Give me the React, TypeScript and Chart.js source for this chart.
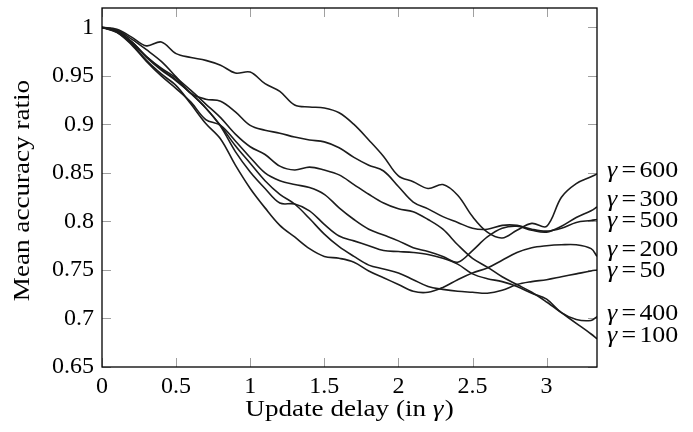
import React, { useEffect, useRef } from "react";
import { Chart, registerables } from "chart.js";

Chart.register(...registerables);

const xValues = [0, 0.1, 0.2, 0.3, 0.4, 0.5, 0.6, 0.7, 0.8, 0.9, 1.0, 1.1, 1.2, 1.3, 1.4, 1.5, 1.6, 1.7, 1.8, 1.9, 2.0, 2.1, 2.2, 2.3, 2.4, 2.5, 2.6, 2.7, 2.8, 2.9, 3.0, 3.1, 3.2, 3.3, 3.34];

const accGamma600 = [1.0, 0.998, 0.99, 0.981, 0.985, 0.973, 0.969, 0.966, 0.961, 0.953, 0.954, 0.942, 0.934, 0.92, 0.918, 0.917, 0.912, 0.9, 0.884, 0.867, 0.847, 0.841, 0.834, 0.838, 0.827, 0.805, 0.789, 0.783, 0.791, 0.798, 0.795, 0.825, 0.839, 0.846, 0.849];
const accGamma300 = [1.0, 0.995, 0.982, 0.965, 0.95, 0.937, 0.923, 0.905, 0.899, 0.883, 0.866, 0.85, 0.842, 0.838, 0.835, 0.828, 0.814, 0.802, 0.792, 0.786, 0.78, 0.773, 0.769, 0.764, 0.758, 0.77, 0.784, 0.793, 0.795, 0.791, 0.789, 0.795, 0.804, 0.811, 0.815];
const accGamma500 = [1.0, 0.997, 0.988, 0.977, 0.965, 0.949, 0.932, 0.926, 0.924, 0.913, 0.899, 0.894, 0.891, 0.887, 0.884, 0.882, 0.876, 0.866, 0.858, 0.852, 0.836, 0.82, 0.813, 0.805, 0.799, 0.793, 0.792, 0.796, 0.796, 0.792, 0.79, 0.793, 0.799, 0.801, 0.802];
const accGamma200 = [1.0, 0.995, 0.983, 0.966, 0.952, 0.94, 0.921, 0.901, 0.885, 0.858, 0.834, 0.814, 0.796, 0.784, 0.772, 0.764, 0.762, 0.758, 0.749, 0.742, 0.735, 0.728, 0.727, 0.732, 0.74, 0.747, 0.752, 0.76, 0.768, 0.773, 0.775, 0.776, 0.776, 0.772, 0.764];
const accGamma50 = [1.0, 0.996, 0.985, 0.969, 0.956, 0.945, 0.932, 0.917, 0.899, 0.878, 0.86, 0.842, 0.828, 0.818, 0.803, 0.787, 0.774, 0.764, 0.755, 0.751, 0.747, 0.74, 0.733, 0.73, 0.728, 0.727, 0.726, 0.729, 0.735, 0.738, 0.74, 0.743, 0.746, 0.749, 0.75];
const accGamma400 = [1.0, 0.996, 0.985, 0.97, 0.957, 0.946, 0.932, 0.917, 0.898, 0.872, 0.851, 0.834, 0.819, 0.818, 0.811, 0.797, 0.785, 0.78, 0.775, 0.77, 0.769, 0.768, 0.766, 0.762, 0.756, 0.746, 0.741, 0.738, 0.733, 0.726, 0.72, 0.706, 0.699, 0.698, 0.702];
const accGamma100 = [1.0, 0.996, 0.985, 0.97, 0.958, 0.948, 0.935, 0.921, 0.907, 0.89, 0.877, 0.869, 0.857, 0.853, 0.856, 0.853, 0.848, 0.838, 0.828, 0.819, 0.813, 0.81, 0.802, 0.792, 0.776, 0.762, 0.753, 0.743, 0.735, 0.727, 0.717, 0.706, 0.695, 0.684, 0.679];

const gammaNames = [600, 300, 500, 200, 50, 400, 100];
const seriesValues = [accGamma600, accGamma300, accGamma500, accGamma200, accGamma50, accGamma400, accGamma100];

const yTickValues = [0.65, 0.7, 0.75, 0.8, 0.85, 0.9, 0.95, 1];
const xTickValues = [0, 0.5, 1, 1.5, 2, 2.5, 3];

const xAxisTitleStart = "Update delay (in ";
const xAxisTitleEnd = ")";
const yAxisTitle = "Mean accuracy ratio";

const FONT = "'Liberation Serif', 'Times New Roman', serif";
const TICK_FONT_SIZE = 24;
const LABEL_FONT_SIZE = 24;
const TITLE_STRETCH = 1.13;
const LABEL_STRETCH = 1.08;

const fmt = (v: number) => String(Number(v.toFixed(2)));

const framePlugin = {
  id: "frame",
  beforeDatasetsDraw(chart: any) {
    const { ctx, chartArea: a, scales } = chart;
    ctx.save();
    ctx.strokeStyle = "#a0a0a0";
    ctx.lineWidth = 1;
    const TL = 9;
    ctx.beginPath();
    for (const v of yTickValues) {
      const y = Math.round(scales.y.getPixelForValue(v)) + 0.5;
      ctx.moveTo(a.left, y);
      ctx.lineTo(a.left + TL, y);
      ctx.moveTo(a.right - TL, y);
      ctx.lineTo(a.right, y);
    }
    for (const v of xTickValues) {
      const x = Math.round(scales.x.getPixelForValue(v)) + 0.5;
      ctx.moveTo(x, a.bottom);
      ctx.lineTo(x, a.bottom - TL);
      ctx.moveTo(x, a.top);
      ctx.lineTo(x, a.top + TL);
    }
    ctx.stroke();
    ctx.restore();
  },
  afterDatasetsDraw(chart: any) {
    const { ctx, chartArea: a } = chart;
    ctx.save();
    ctx.strokeStyle = "#000";
    ctx.lineWidth = 1.3;
    ctx.strokeRect(a.left, a.top, a.right - a.left, a.bottom - a.top);

    // end-of-line labels, spread apart where they would collide
    const items = chart.data.datasets.map((ds: any, i: number) => {
      const meta = chart.getDatasetMeta(i);
      const pt = meta.data[meta.data.length - 1];
      return { name: gammaNames[i], want: pt.y - 3, pos: pt.y - 3 };
    });
    items.sort((p: any, q: any) => p.want - q.want);
    const GAP = 21;
    const groups: any[][] = items.map((it: any) => [it]);
    const place = (g: any[]) => {
      const mean = g.reduce((s, it) => s + it.want, 0) / g.length;
      const start = mean - ((g.length - 1) * GAP) / 2;
      g.forEach((it, k) => (it.pos = start + k * GAP));
    };
    groups.forEach(place);
    let changed = true;
    while (changed) {
      changed = false;
      for (let i = 0; i < groups.length - 1; i++) {
        const g1 = groups[i];
        const g2 = groups[i + 1];
        if (g1[g1.length - 1].pos + GAP > g2[0].pos + 0.01) {
          const merged = g1.concat(g2);
          place(merged);
          groups.splice(i, 2, merged);
          changed = true;
          break;
        }
      }
    }
    ctx.fillStyle = "#000";
    ctx.textBaseline = "middle";
    ctx.textAlign = "left";
    for (const it of items) {
      ctx.save();
      ctx.translate(a.right + 10, it.pos);
      ctx.scale(LABEL_STRETCH, 1);
      let x = 0;
      ctx.font = `italic ${LABEL_FONT_SIZE}px ${FONT}`;
      ctx.fillText("\u03b3", x, 0);
      x += ctx.measureText("\u03b3").width + 4;
      ctx.font = `${LABEL_FONT_SIZE}px ${FONT}`;
      ctx.fillText("=", x, 0);
      x += ctx.measureText("=").width + 3;
      ctx.fillText(String(it.name), x, 0);
      ctx.restore();
    }

    // x axis title
    ctx.font = `${LABEL_FONT_SIZE}px ${FONT}`;
    const w1 = ctx.measureText(xAxisTitleStart).width;
    ctx.font = `italic ${LABEL_FONT_SIZE}px ${FONT}`;
    const w2 = ctx.measureText("\u03b3").width;
    ctx.font = `${LABEL_FONT_SIZE}px ${FONT}`;
    const w3 = ctx.measureText(xAxisTitleEnd).width;
    const total = w1 + w2 + 1 + w3;
    ctx.save();
    ctx.translate((a.left + a.right) / 2, 410);
    ctx.scale(TITLE_STRETCH, 1);
    let tx = -total / 2;
    ctx.fillText(xAxisTitleStart, tx, 0);
    tx += w1;
    ctx.font = `italic ${LABEL_FONT_SIZE}px ${FONT}`;
    ctx.fillText("\u03b3", tx, 0);
    tx += w2 + 1;
    ctx.font = `${LABEL_FONT_SIZE}px ${FONT}`;
    ctx.fillText(xAxisTitleEnd, tx, 0);
    ctx.restore();

    // y axis title
    ctx.save();
    ctx.translate(23, (a.top + a.bottom) / 2 + 3);
    ctx.rotate(-Math.PI / 2);
    ctx.scale(TITLE_STRETCH, 1);
    ctx.textAlign = "center";
    ctx.font = `${LABEL_FONT_SIZE}px ${FONT}`;
    ctx.fillText(yAxisTitle, 0, 0);
    ctx.restore();

    ctx.restore();
  },
};

export default function App() {
  const canvasRef = useRef<HTMLCanvasElement | null>(null);

  useEffect(() => {
    const canvas = canvasRef.current;
    if (!canvas) return;
    const datasets = seriesValues.map((vals, i) => ({
      label: `\u03b3 = ${gammaNames[i]}`,
      data: vals.map((v, k) => ({ x: xValues[k], y: v })),
      borderColor: "#1c1c1c",
      backgroundColor: "#1c1c1c",
      borderWidth: 1.6,
      pointRadius: 0,
      tension: 0.35,
      fill: false,
    }));
    const chart = new Chart(canvas, {
      type: "line",
      data: { datasets },
      plugins: [framePlugin],
      options: {
        animation: false,
        responsive: false,
        devicePixelRatio: 1,
        layout: { padding: { left: 0, top: 8, right: 96, bottom: 0 } },
        plugins: {
          legend: { display: false },
          tooltip: { enabled: false },
        },
        scales: {
          x: {
            type: "linear",
            min: 0,
            max: 3.34,
            grid: { display: false, drawTicks: false },
            border: { display: false },
            afterBuildTicks: (s: any) => {
              s.ticks = xTickValues.map((v) => ({ value: v }));
            },
            afterFit: (s: any) => {
              s.height = 65;
              s.paddingLeft = 0;
              s.paddingRight = 0;
            },
            ticks: {
              color: "#000",
              padding: 5,
              maxRotation: 0,
              autoSkip: false,
              font: { family: FONT, size: TICK_FONT_SIZE },
              callback: (v: any) => fmt(Number(v)),
            },
          },
          y: {
            type: "linear",
            min: 0.65,
            max: 1.02,
            grid: { display: false, drawTicks: false },
            border: { display: false },
            afterBuildTicks: (s: any) => {
              s.ticks = yTickValues.map((v) => ({ value: v }));
            },
            afterFit: (s: any) => {
              s.width = 102;
              s.paddingTop = 0;
              s.paddingBottom = 0;
            },
            ticks: {
              color: "#000",
              padding: 8,
              autoSkip: false,
              font: { family: FONT, size: TICK_FONT_SIZE },
              callback: (v: any) => fmt(Number(v)),
            },
          },
        },
      },
    });
    return () => chart.destroy();
  }, []);

  return (
    <div style={{ position: "fixed", left: 0, top: 0, width: 693, height: 432, background: "#fff" }}>
      <canvas ref={canvasRef} width={693} height={432} style={{ display: "block" }} />
    </div>
  );
}
